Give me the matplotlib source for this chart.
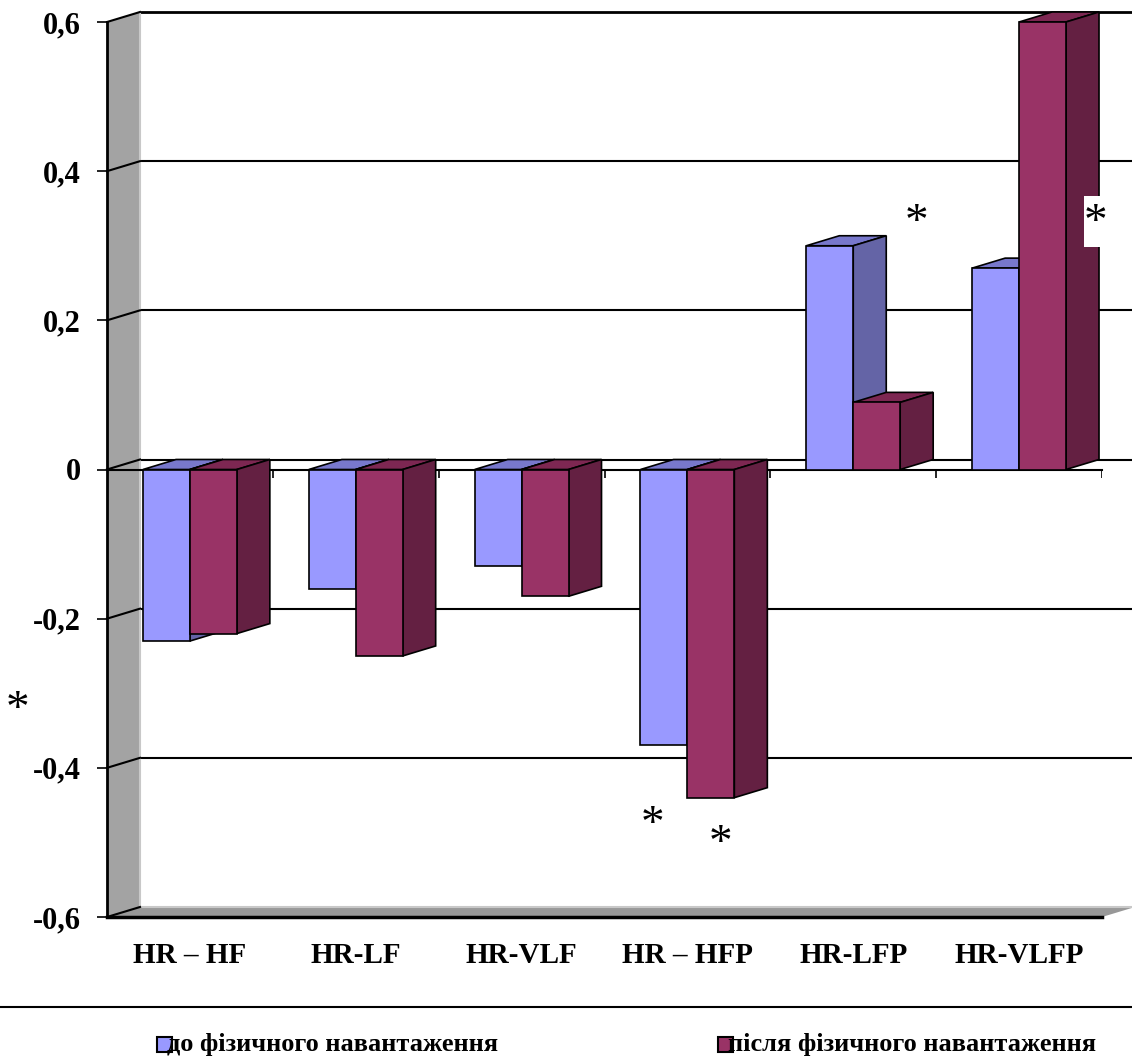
import matplotlib
matplotlib.use("Agg")
import matplotlib.pyplot as plt
from matplotlib.patches import Polygon, Rectangle
from matplotlib.lines import Line2D

plt.rcParams['font.family'] = ['Liberation Serif', 'DejaVu Serif']
plt.rcParams['font.weight'] = 'bold'

categories = ['HR – HF', 'HR-LF', 'HR-VLF', 'HR – HFP', 'HR-LFP', 'HR-VLFP']
before = [-0.23, -0.16, -0.13, -0.37, 0.30, 0.27]
after = [-0.22, -0.25, -0.17, -0.44, 0.09, 0.60]
series_names = ['до фізичного навантаження', 'після фізичного навантаження']
yticks = [-0.6, -0.4, -0.2, 0, 0.2, 0.4, 0.6]
ytick_labels = ['-0,6', '-0,4', '-0,2', '0', '0,2', '0,4', '0,6']

# colours: front, side, top
blue = ('#9999FF', '#6464A6', '#7878CC')
red = ('#993366', '#642042', '#7D2752')

W_PX, H_PX = 1132, 1061
fig = plt.figure(figsize=(W_PX / 100, H_PX / 100), dpi=100)
left, right, top, bottom = 107, 1102, 22, 917
ax = fig.add_axes([left / W_PX, 1 - bottom / H_PX, (right - left) / W_PX, (bottom - top) / H_PX])
ax.set_xlim(0, len(categories))
ax.set_ylim(-0.6, 0.6)

# depth of the pseudo 3d box, in data units
dx = 33 / (right - left) * len(categories)
dy = 10 / (bottom - top) * 1.2
ymin, ymax = -0.6, 0.6
n = len(categories)

# back wall gridlines
for y in yticks[1:-1]:
    ax.plot([dx, n + dx], [y + dy, y + dy], color='black', lw=1.5, clip_on=False, zorder=1)
    ax.plot([0, dx], [y, y + dy], color='black', lw=1.5, clip_on=False, zorder=2)
ax.plot([dx, n + dx], [ymax + dy, ymax + dy], color='black', lw=2, clip_on=False, zorder=1)

# left wall
ax.add_patch(Polygon([(0, ymin), (0, ymax), (dx, ymax + dy), (dx, ymin + dy)],
                     facecolor='#A3A3A3', edgecolor='none', clip_on=False, zorder=1.5))
ax.plot([dx, dx], [ymin + dy, ymax + dy], color='#C8C8C8', lw=1.5, clip_on=False, zorder=1.6)
ax.plot([0, dx], [ymax, ymax + dy], color='black', lw=1.5, clip_on=False, zorder=2)
# floor
ax.add_patch(Polygon([(0, ymin), (n, ymin), (n + dx, ymin + dy), (dx, ymin + dy)],
                     facecolor='#989898', edgecolor='none', clip_on=False, zorder=1.5))
ax.plot([dx, n + dx], [ymin + dy, ymin + dy], color='#C8C8C8', lw=1.5, clip_on=False, zorder=1.6)
ax.plot([0, dx], [ymin, ymin + dy], color='black', lw=1.5, clip_on=False, zorder=2)

# front category axis at zero
ax.plot([0, n], [0, 0], color='black', lw=1.5, clip_on=False, zorder=2)
ax.vlines(range(n + 1), -0.012, 0, color='black', lw=1.2, zorder=2)

bw = 0.283
for i in range(n):
    for s, (vals, col) in enumerate([(before, blue), (after, red)]):
        v = vals[i]
        x0 = i + 0.217 + s * bw
        x1 = x0 + bw
        yt = max(0, v)
        z = 3 + i + s * 0.5
        ax.add_patch(Polygon([(x0, yt), (x1, yt), (x1 + dx, yt + dy), (x0 + dx, yt + dy)],
                             facecolor=col[2], edgecolor='black', lw=1.2, zorder=z, clip_on=False))
        ax.add_patch(Polygon([(x1, 0), (x1, v), (x1 + dx, v + dy), (x1 + dx, dy)],
                             facecolor=col[1], edgecolor='black', lw=1.2, zorder=z, clip_on=False))
        ax.add_patch(Rectangle((x0, min(0, v)), bw, abs(v),
                               facecolor=col[0], edgecolor='black', lw=1.2, zorder=z + 0.1, clip_on=False))

for sp in ['top', 'right']:
    ax.spines[sp].set_visible(False)
ax.spines['left'].set_linewidth(2)
ax.spines['bottom'].set_linewidth(2.5)
ax.spines['left'].set_zorder(2)
ax.spines['bottom'].set_zorder(2)
ax.patch.set_visible(False)

ax.set_yticks(yticks, ytick_labels)
ax.tick_params(axis='y', length=7, width=1.2, pad=12, labelsize=22)
ax.set_xticks([i + 0.5 for i in range(n)], categories)
ax.tick_params(axis='x', length=0, pad=18, labelsize=21)

# significance marks
stars = [(-0.54, -0.323), (3.29, -0.477), (3.7, -0.503), (4.88, 0.33), (5.96, 0.33)]
sx, sy = stars[4]
ax.add_patch(Rectangle((sx - 0.07, 0.298), 0.14, 0.069, facecolor='white',
                       edgecolor='none', zorder=19, clip_on=False))
for sx, sy in stars:
    ax.text(sx, sy, '*', fontsize=34, fontweight='normal', ha='center', va='center',
            clip_on=False, zorder=20)

# separator and legend
fig.add_artist(Line2D([0, 1], [1 - 1007 / H_PX] * 2, color='black', lw=1.5))
for name, col, lx in [(series_names[0], blue, 157), (series_names[1], red, 718)]:
    fig.add_artist(Rectangle((lx / W_PX, 1 - 1052 / H_PX), 15 / W_PX, 15 / H_PX,
                             facecolor=col[0], edgecolor='black', lw=1.5))
    fig.text((lx + 10) / W_PX, 1 - 1045 / H_PX, name, fontsize=19, ha='left', va='center')

fig.savefig('out.png', dpi=100)
